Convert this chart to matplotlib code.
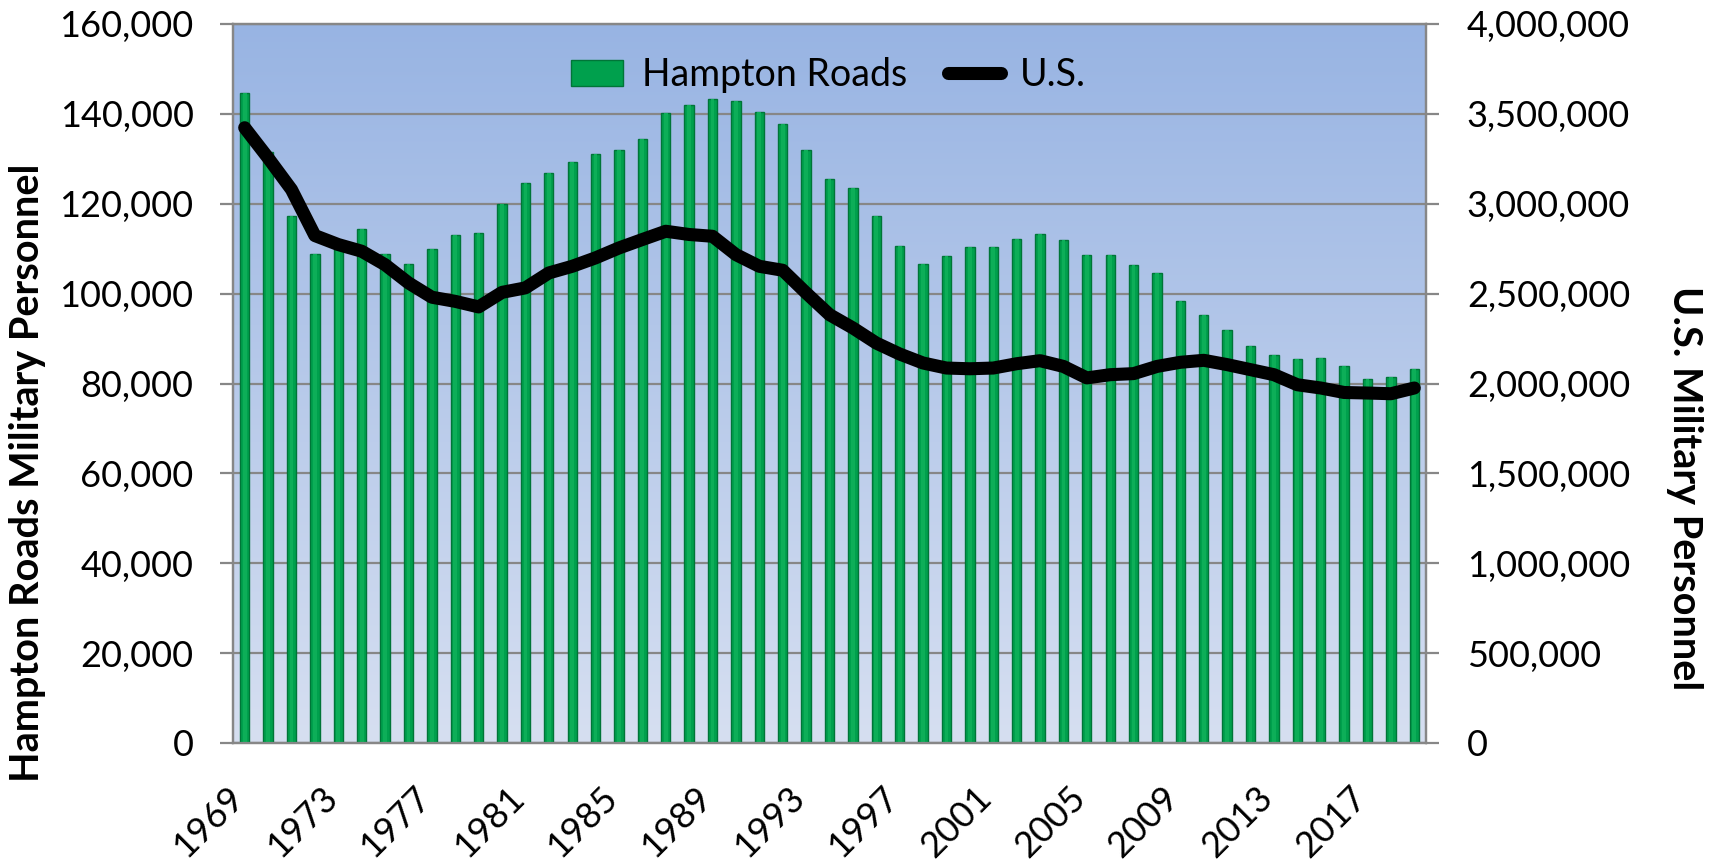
import matplotlib
matplotlib.use("Agg")
import matplotlib.pyplot as plt
import matplotlib.transforms as mtransforms
import numpy as np
from matplotlib.ticker import FuncFormatter
from matplotlib.lines import Line2D
from matplotlib.patches import Patch

years = list(range(1969, 2020))
hampton_roads = [
    144700, 131500, 117200, 108900, 111000, 114300, 108900, 106600, 110000, 113100,
    113600, 119900, 124600, 126900, 129200, 131000, 131900, 134300, 140100, 142000,
    143200, 142800, 140500, 137800, 131900, 125600, 123500, 117200, 110700, 106500,
    108300, 110400, 110300, 112200, 113300, 112000, 108500, 108500, 106400, 104600,
    98400, 95200, 92000, 88300, 86300, 85500, 85700, 84000, 81100, 81400, 83200,
]
us_total = [
    3423000, 3255000, 3079000, 2823000, 2773000, 2736000, 2661000, 2560000, 2480000, 2457000,
    2426000, 2507000, 2532000, 2615000, 2652000, 2699000, 2754000, 2801000, 2847000, 2829000,
    2819000, 2717000, 2652000, 2630000, 2504000, 2383000, 2309000, 2225000, 2164000, 2114000,
    2086000, 2082000, 2086000, 2110000, 2127000, 2095000, 2031000, 2049000, 2055000, 2095000,
    2118000, 2129000, 2105000, 2077000, 2049000, 1993000, 1975000, 1950000, 1947000, 1943000,
    1975000,
]
left_ticks = [0, 20000, 40000, 60000, 80000, 100000, 120000, 140000, 160000]
right_ticks = [0, 500000, 1000000, 1500000, 2000000, 2500000, 3000000, 3500000, 4000000]
label_years = list(range(1969, 2020, 4))

FONT = "Lato"
plt.rcParams["font.family"] = [FONT, "DejaVu Sans"]
GRID = "#878787"

fig = plt.figure(figsize=(17.11, 8.64), dpi=100)
W, H = 1711, 864
ax = fig.add_axes([233 / W, 1 - 743 / H, (1426 - 233) / W, (743 - 24) / H])

x = np.arange(len(years))

# gradient background
grad = np.linspace(0, 1, 256).reshape(-1, 1)
top = np.array([0x98, 0xB4, 0xE3]) / 255
bot = np.array([0xD6, 0xDF, 0xF1]) / 255
img = top[None, None, :] * (1 - grad[:, :, None]) + bot[None, None, :] * grad[:, :, None]
ax.imshow(img, extent=[0, 1, 0, 1], transform=ax.transAxes, aspect="auto", zorder=0)

ax.set_xlim(-0.5, len(years) - 0.5)
ax.set_ylim(0, 160000)
ax.set_yticks(left_ticks)
ax.yaxis.grid(True, color=GRID, linewidth=1.6, zorder=1)
ax.set_axisbelow(True)

ax.bar(x, hampton_roads, width=0.40, color="#00A04D", edgecolor="#007538",
       linewidth=1.0, zorder=3)
ax.bar(x, hampton_roads, width=0.16, color="#0DAE58", linewidth=0, zorder=3.1)

ax.yaxis.set_major_formatter(FuncFormatter(lambda v, p: f"{int(v):,}"))
ax.set_xticks([years.index(y) for y in label_years])
ax.set_xticklabels([str(y) for y in label_years], rotation=45, ha="right", va="top")
ax.tick_params(axis="x", length=0, pad=27, labelsize=26)
shift = mtransforms.ScaledTranslation(5 / 100, 0, fig.dpi_scale_trans)
for lab in ax.get_xticklabels():
    lab.set_transform(lab.get_transform() + shift)
ax.tick_params(axis="y", length=9.4, width=1.6, color=GRID, pad=19, labelsize=26,
               direction="out")
for s in ["left", "bottom", "top", "right"]:
    ax.spines[s].set_color(GRID)
    ax.spines[s].set_linewidth(1.6)

ax2 = ax.twinx()
ax2.set_ylim(0, 4000000)
ax2.set_yticks(right_ticks)
ax2.yaxis.set_major_formatter(FuncFormatter(lambda v, p: f"{int(v):,}"))
ax2.tick_params(axis="y", length=9.4, width=1.6, color=GRID, pad=20, labelsize=26,
                direction="out")
for s in ["left", "bottom", "top", "right"]:
    ax2.spines[s].set_color(GRID)
    ax2.spines[s].set_linewidth(1.6)
ax2.plot(x, us_total, color="black", linewidth=9.4, solid_capstyle="round",
         solid_joinstyle="round", zorder=5)

fig.text(27.5 / W, 1 - 473 / H, "Hampton Roads Military Personnel", rotation=90,
         ha="center", va="center", fontsize=28.5, fontweight="bold")
fig.text(1684 / W, 1 - 488 / H, "U.S. Military Personnel", rotation=270,
         ha="center", va="center", fontsize=28.5, fontweight="bold")

handles = [Patch(facecolor="#00A04D", edgecolor="#007538", linewidth=1.0),
           Line2D([0], [0], color="black", linewidth=9.4, solid_capstyle="round")]
leg = ax2.legend(handles, ["Hampton Roads", "U.S."], loc="upper center",
                 bbox_to_anchor=((828 - 233) / (1426 - 233), 1 - (42 - 24) / (743 - 24)),
                 ncol=2, frameon=False, fontsize=27, handlelength=1.4, handleheight=0.7,
                 handletextpad=0.5, columnspacing=1.1, borderaxespad=0)

fig.savefig("out.png", dpi=100)
